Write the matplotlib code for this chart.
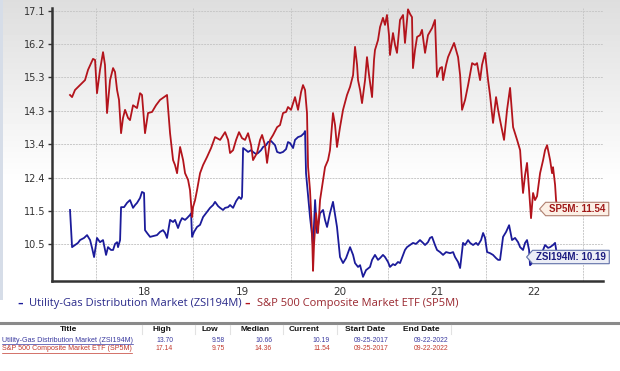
import matplotlib
matplotlib.use("Agg")
import matplotlib.pyplot as plt
import numpy as np
from matplotlib.path import Path
from matplotlib.lines import Line2D

# S&P 500 Composite Market ETF (SP5M) - decimal year, value
sp_years = [2017.733, 2017.754, 2017.784, 2017.836, 2017.887, 2017.918, 2017.969, 2017.990,
            2018.010, 2018.041, 2018.072, 2018.092, 2018.113, 2018.144, 2018.175, 2018.195,
            2018.216, 2018.236, 2018.257, 2018.277, 2018.298, 2018.329, 2018.349, 2018.380,
            2018.421, 2018.452, 2018.472, 2018.503, 2018.534, 2018.575, 2018.616, 2018.657,
            2018.698, 2018.729, 2018.760, 2018.791, 2018.811, 2018.832, 2018.863, 2018.894,
            2018.914, 2018.945, 2018.965, 2018.986, 2018.996, 2019.017, 2019.037, 2019.068,
            2019.099, 2019.140, 2019.181, 2019.222, 2019.274, 2019.325, 2019.356, 2019.376,
            2019.407, 2019.438, 2019.468, 2019.499, 2019.530, 2019.561, 2019.592, 2019.612,
            2019.653, 2019.684, 2019.705, 2019.735, 2019.756, 2019.787, 2019.818, 2019.859,
            2019.889, 2019.920, 2019.951, 2019.971, 2020.002, 2020.043, 2020.074, 2020.105,
            2020.125, 2020.146, 2020.166, 2020.177, 2020.197, 2020.218, 2020.228, 2020.238,
            2020.259, 2020.279, 2020.300, 2020.320, 2020.351, 2020.382, 2020.402, 2020.433,
            2020.454, 2020.474, 2020.505, 2020.536, 2020.577, 2020.608, 2020.639, 2020.659,
            2020.680, 2020.690, 2020.711, 2020.731, 2020.762, 2020.782, 2020.803, 2020.834,
            2020.854, 2020.864, 2020.895, 2020.916, 2020.946, 2020.967, 2020.987, 2021.008,
            2021.018, 2021.049, 2021.070, 2021.090, 2021.121, 2021.152, 2021.172, 2021.203,
            2021.224, 2021.244, 2021.254, 2021.275, 2021.296, 2021.326, 2021.347, 2021.378,
            2021.408, 2021.450, 2021.480, 2021.501, 2021.532, 2021.552, 2021.563, 2021.594,
            2021.614, 2021.645, 2021.676, 2021.696, 2021.717, 2021.738, 2021.758, 2021.789,
            2021.820, 2021.861, 2021.891, 2021.912, 2021.943, 2021.963, 2021.994, 2022.025,
            2022.045, 2022.076, 2022.107, 2022.128, 2022.148, 2022.169, 2022.189, 2022.220,
            2022.251, 2022.282, 2022.323, 2022.354, 2022.374, 2022.384, 2022.405, 2022.425,
            2022.446, 2022.466, 2022.487, 2022.507, 2022.528, 2022.559, 2022.590, 2022.610,
            2022.631, 2022.651, 2022.662, 2022.682, 2022.692, 2022.713, 2022.723, 2022.733]
sp_vals = [14.72, 14.66, 14.86, 15.00, 15.14, 15.43, 15.74, 15.71,
           14.77, 15.43, 15.93, 15.57, 14.21, 15.14, 15.48, 15.37,
           14.86, 14.58, 13.64, 14.07, 14.30, 14.07, 14.01, 14.43,
           14.35, 14.77, 14.72, 13.64, 14.21, 14.24, 14.43, 14.58,
           14.66, 14.72, 13.64, 12.88, 12.74, 12.51, 13.25, 12.88,
           12.51, 12.32, 12.03, 11.27, 11.55, 11.75, 12.03, 12.51,
           12.74, 12.97, 13.22, 13.53, 13.45, 13.67, 13.45, 13.08,
           13.16, 13.45, 13.67, 13.50, 13.45, 13.64, 13.30, 12.88,
           13.08, 13.45, 13.59, 13.30, 12.80, 13.45, 13.59, 13.81,
           13.87, 14.21, 14.24, 14.38, 14.30, 14.66, 14.30, 14.80,
           15.00, 14.86, 14.21, 12.69, 12.03, 10.82, 9.75, 10.48,
           11.38, 10.82, 11.75, 12.12, 12.68, 12.88, 13.16, 14.21,
           13.87, 13.25, 13.81, 14.30, 14.72, 14.95, 15.28, 16.08,
           15.57, 15.14, 14.86, 14.49, 15.14, 15.79, 15.28, 14.66,
           15.71, 15.99, 16.27, 16.64, 16.90, 16.70, 16.98, 16.41,
           15.85, 16.47, 16.13, 15.91, 16.84, 16.98, 16.19, 17.14,
           17.01, 16.92, 15.48, 15.99, 16.36, 16.41, 16.56, 15.91,
           16.41, 16.61, 16.84, 15.23, 15.48, 15.51, 15.14, 15.57,
           15.79, 15.99, 16.19, 15.99, 15.79, 15.28, 14.30, 14.58,
           15.00, 15.62, 15.57, 15.62, 15.14, 15.57, 15.91, 15.14,
           14.72, 13.93, 14.66, 14.30, 14.01, 13.73, 13.45, 14.30,
           14.92, 13.81, 13.45, 13.16, 12.32, 11.95, 12.46, 12.80,
           12.03, 11.24, 11.95, 11.75, 11.86, 12.51, 12.88, 13.16,
           13.30, 13.02, 12.88, 12.51, 12.68, 12.18, 11.75, 11.54]

# Utility-Gas Distribution Market (ZSI194M)
gas_years = [2017.733, 2017.754, 2017.784, 2017.815, 2017.836, 2017.877, 2017.908, 2017.939,
             2017.959, 2017.980, 2018.010, 2018.041, 2018.072, 2018.103, 2018.123, 2018.154,
             2018.175, 2018.195, 2018.216, 2018.226, 2018.247, 2018.257, 2018.288, 2018.318,
             2018.349, 2018.380, 2018.401, 2018.421, 2018.452, 2018.472, 2018.493, 2018.503,
             2018.524, 2018.555, 2018.585, 2018.626, 2018.657, 2018.688, 2018.709, 2018.729,
             2018.760, 2018.791, 2018.811, 2018.842, 2018.863, 2018.883, 2018.914, 2018.934,
             2018.965, 2018.976, 2018.986, 2019.006, 2019.037, 2019.068, 2019.099, 2019.130,
             2019.171, 2019.202, 2019.222, 2019.253, 2019.274, 2019.304, 2019.325, 2019.356,
             2019.376, 2019.407, 2019.438, 2019.468, 2019.489, 2019.499, 2019.510, 2019.540,
             2019.561, 2019.592, 2019.612, 2019.643, 2019.664, 2019.694, 2019.715, 2019.746,
             2019.766, 2019.797, 2019.818, 2019.838, 2019.859, 2019.889, 2019.920, 2019.951,
             2019.971, 2019.992, 2020.023, 2020.043, 2020.074, 2020.105, 2020.136, 2020.146,
             2020.156, 2020.177, 2020.197, 2020.218, 2020.228, 2020.249, 2020.269, 2020.300,
             2020.331, 2020.351, 2020.372, 2020.402, 2020.433, 2020.454, 2020.474, 2020.505,
             2020.536, 2020.567, 2020.608, 2020.639, 2020.659, 2020.690, 2020.711, 2020.741,
             2020.772, 2020.813, 2020.834, 2020.864, 2020.895, 2020.916, 2020.946, 2020.967,
             2020.998, 2021.018, 2021.049, 2021.070, 2021.100, 2021.121, 2021.152, 2021.172,
             2021.193, 2021.224, 2021.254, 2021.285, 2021.326, 2021.357, 2021.378, 2021.408,
             2021.429, 2021.450, 2021.480, 2021.501, 2021.532, 2021.563, 2021.594, 2021.635,
             2021.666, 2021.686, 2021.717, 2021.738, 2021.768, 2021.789, 2021.820, 2021.840,
             2021.871, 2021.902, 2021.922, 2021.953, 2021.974, 2021.994, 2022.015, 2022.045,
             2022.076, 2022.107, 2022.128, 2022.148, 2022.179, 2022.210, 2022.241, 2022.251,
             2022.271, 2022.302, 2022.333, 2022.354, 2022.384, 2022.405, 2022.425, 2022.446,
             2022.456, 2022.487, 2022.528, 2022.559, 2022.590, 2022.610, 2022.641, 2022.662,
             2022.692, 2022.713, 2022.733]
gas_vals = [11.47, 10.42, 10.48, 10.54, 10.62, 10.68, 10.76, 10.62,
            10.40, 10.14, 10.68, 10.56, 10.62, 10.20, 10.42, 10.34,
            10.34, 10.51, 10.56, 10.42, 10.62, 11.55, 11.55, 11.67,
            11.75, 11.53, 11.61, 11.67, 11.81, 11.98, 11.95, 10.90,
            10.82, 10.71, 10.73, 10.76, 10.85, 10.90, 10.82, 10.68,
            11.19, 11.13, 11.19, 10.96, 11.13, 11.24, 11.19, 11.24,
            11.33, 11.38, 10.71, 10.85, 10.99, 11.05, 11.27, 11.38,
            11.53, 11.61, 11.70, 11.58, 11.53, 11.47, 11.53, 11.55,
            11.61, 11.53, 11.72, 11.84, 11.78, 11.84, 13.22, 13.16,
            13.11, 13.16, 13.11, 13.05, 13.08, 13.16, 13.25, 13.30,
            13.39, 13.42, 13.36, 13.30, 13.11, 13.08, 13.11, 13.19,
            13.39, 13.36, 13.22, 13.45, 13.53, 13.56, 13.64, 13.70,
            12.51, 11.89, 11.27, 10.76, 10.42, 11.75, 10.82, 11.38,
            11.47, 11.19, 10.99, 11.38, 11.70, 11.33, 10.99, 10.14,
            9.97, 10.11, 10.42, 10.20, 9.97, 9.86, 9.91, 9.58,
            9.77, 9.86, 10.06, 10.20, 10.06, 10.11, 10.20, 10.14,
            10.00, 9.86, 9.94, 9.91, 10.00, 9.97, 10.20, 10.34,
            10.42, 10.48, 10.54, 10.51, 10.62, 10.54, 10.48, 10.56,
            10.68, 10.71, 10.48, 10.34, 10.28, 10.20, 10.28, 10.25,
            10.28, 10.14, 10.00, 9.83, 10.54, 10.48, 10.62, 10.54,
            10.48, 10.54, 10.48, 10.62, 10.82, 10.68, 10.28, 10.25,
            10.20, 10.11, 10.06, 10.06, 10.71, 10.85, 11.04, 10.90,
            10.62, 10.68, 10.56, 10.42, 10.34, 10.54, 10.62, 10.34,
            9.91, 10.00, 10.06, 10.20, 10.34, 10.48, 10.40, 10.42,
            10.48, 10.54, 10.19]

ytick_labels = ["10.5", "11.5", "12.4", "13.4", "14.3", "15.3", "16.2", "17.1"]
year_labels = ["18", "19", "20", "21", "22"]

names = ["Utility-Gas Distribution Market (ZSI194M)", "S&P 500 Composite Market ETF (SP5M)"]
short = ["ZSI194M", "SP5M"]
high = ["13.70", "17.14"]
low = ["9.58", "9.75"]
median = ["10.66", "14.36"]
current = ["10.19", "11.54"]
start = ["09-25-2017", "09-25-2017"]
end = ["09-22-2022", "09-22-2022"]

BLUE = "#1b1b9a"
RED = "#b3141c"
W, H = 620, 371


def fx(x):
    return x / W


def fy(y):
    return 1 - y / H


def tag_box(x0, y0, width, height, mutation_size):
    pad = 0.35 * mutation_size
    x0 -= pad
    y0 -= pad * 0.5
    width += 2 * pad
    height += pad
    tip = height * 0.45
    x0 -= tip
    width += tip
    verts = [(x0, y0 + height / 2), (x0 + tip, y0), (x0 + width, y0),
             (x0 + width, y0 + height), (x0 + tip, y0 + height), (x0, y0 + height / 2)]
    return Path(verts, closed=True)


fig = plt.figure(figsize=(6.2, 3.71), dpi=100)
fig.patch.set_facecolor("white")

# background gradient behind chart region
bg = fig.add_axes([0, fy(300), 1, 300 / H], zorder=0)
grad = np.clip(np.linspace(0.87, 1.08, 300), 0, 1)
bg.imshow(np.tile(grad[:, None], (1, 10)), cmap="gray", vmin=0, vmax=1, aspect="auto",
          extent=[0, 1, 0, 1])
bg.axis("off")
strip = fig.add_axes([0, fy(300), 3 / W, 300 / H], zorder=0.5)
strip.set_facecolor("#d6dde8")
strip.set_xticks([])
strip.set_yticks([])
for s in strip.spines.values():
    s.set_visible(False)

ax = fig.add_axes([fx(52), fy(281), fx(603) - fx(52), fy(8) - fy(281)], zorder=2)
ax.patch.set_alpha(0)

ax.plot(gas_years, gas_vals, color=BLUE, lw=1.3, zorder=3)
ax.plot(sp_years, sp_vals, color=RED, lw=1.3, zorder=4)

ax.set_xlim(2017.548, 2023.205)
ax.set_ylim(9.463, 17.178)

yt = np.linspace(10.5, 17.1, len(ytick_labels))
ax.set_yticks(yt)
ax.set_yticklabels(ytick_labels)
ax.set_xticks(np.arange(2018, 2018 + len(year_labels)) + 0.5)
ax.set_xticklabels(year_labels)
ax.set_xticks(np.arange(2018, 2024), minor=True)

ax.tick_params(axis="y", length=3, width=1, color="#333333", labelsize=7, labelcolor="#333333", pad=2)
ax.tick_params(axis="x", which="both", length=0, labelsize=7.5, labelcolor="#333333", pad=4)
ax.grid(True, axis="y", which="major", color="#c8c8c8", lw=0.7, ls=(0, (2, 1)))
ax.grid(True, axis="x", which="minor", color="#c8c8c8", lw=0.7, ls=(0, (2, 1)))
for side in ["top", "right"]:
    ax.spines[side].set_visible(False)
for side in ["left", "bottom"]:
    ax.spines[side].set_color("#333333")
    ax.spines[side].set_linewidth(1.8)

# end-of-line tags
fig.text(fx(549), fy(209), f"{short[1]}: {sp_vals[-1]:.2f}", color="#a01818", fontsize=7,
         fontweight="bold", family="Liberation Sans", ha="left", va="center", zorder=5,
         bbox=dict(boxstyle=tag_box, fc="#fcf0e6", ec="#b08070", lw=0.8))
fig.text(fx(536), fy(257), f"{short[0]}: {gas_vals[-1]:.2f}", color="#1b1b80", fontsize=7,
         fontweight="bold", family="Liberation Sans", ha="left", va="center", zorder=5,
         bbox=dict(boxstyle=tag_box, fc="#eceef6", ec="#6070a8", lw=0.8))

# legend row
fig.canvas.draw()
r = fig.canvas.get_renderer()
lx = 17
for name, c_dash, c_txt in zip(names, [BLUE, RED], ["#2a2a8a", "#9a2830"]):
    fig.text(fx(lx), fy(303.5), "–", color=c_dash, fontsize=8, fontweight="bold", va="center")
    t = fig.text(fx(lx + 12), fy(303.5), name, color=c_txt, fontsize=8, family="Open Sans",
                 va="center")
    lx = t.get_window_extent(r).x1 + 3

# separator
fig.add_artist(Line2D([0, 1], [fy(322.7), fy(322.7)], color="#8a8a8a", lw=2.2))

# table
headers = ["Title", "High", "Low", "Median", "Current", "Start Date", "End Date"]
head_x = [69, 162, 210, 255, 304, 365, 421]
val_right = [173, 225, 272, 330, 389, 448]
for h, x in zip(headers, head_x):
    fig.text(fx(x), fy(329.5), h, fontsize=6, fontweight="bold", family="Liberation Sans",
             ha="center", va="center", color="#111111")
for x in [142, 195, 230, 283, 337, 451]:
    fig.add_artist(Line2D([fx(x), fx(x)], [fy(325), fy(334)], color="#e2e2e2", lw=0.8))

row_y = [340, 349]
row_col = ["#3a3aa0", "#c23a2e"]
cols = [high, low, median, current, start, end]
title_texts = []
for i in range(2):
    t = fig.text(fx(2), fy(row_y[i]), names[i], fontsize=5.1, family="Liberation Sans",
                 ha="left", va="center", color=row_col[i])
    title_texts.append(t)
    for col, xr in zip(cols, val_right):
        fig.text(fx(xr), fy(row_y[i]), col[i], fontsize=4.9, family="Liberation Sans",
                 ha="right", va="center", color=row_col[i])

fig.canvas.draw()
for i, t in enumerate(title_texts):
    bb = t.get_window_extent(r)
    fig.add_artist(Line2D([bb.x0 / W, bb.x1 / W], [bb.y0 / H - 0.001, bb.y0 / H - 0.001],
                          color=row_col[i], lw=0.5))

fig.savefig("out.png", dpi=100)
